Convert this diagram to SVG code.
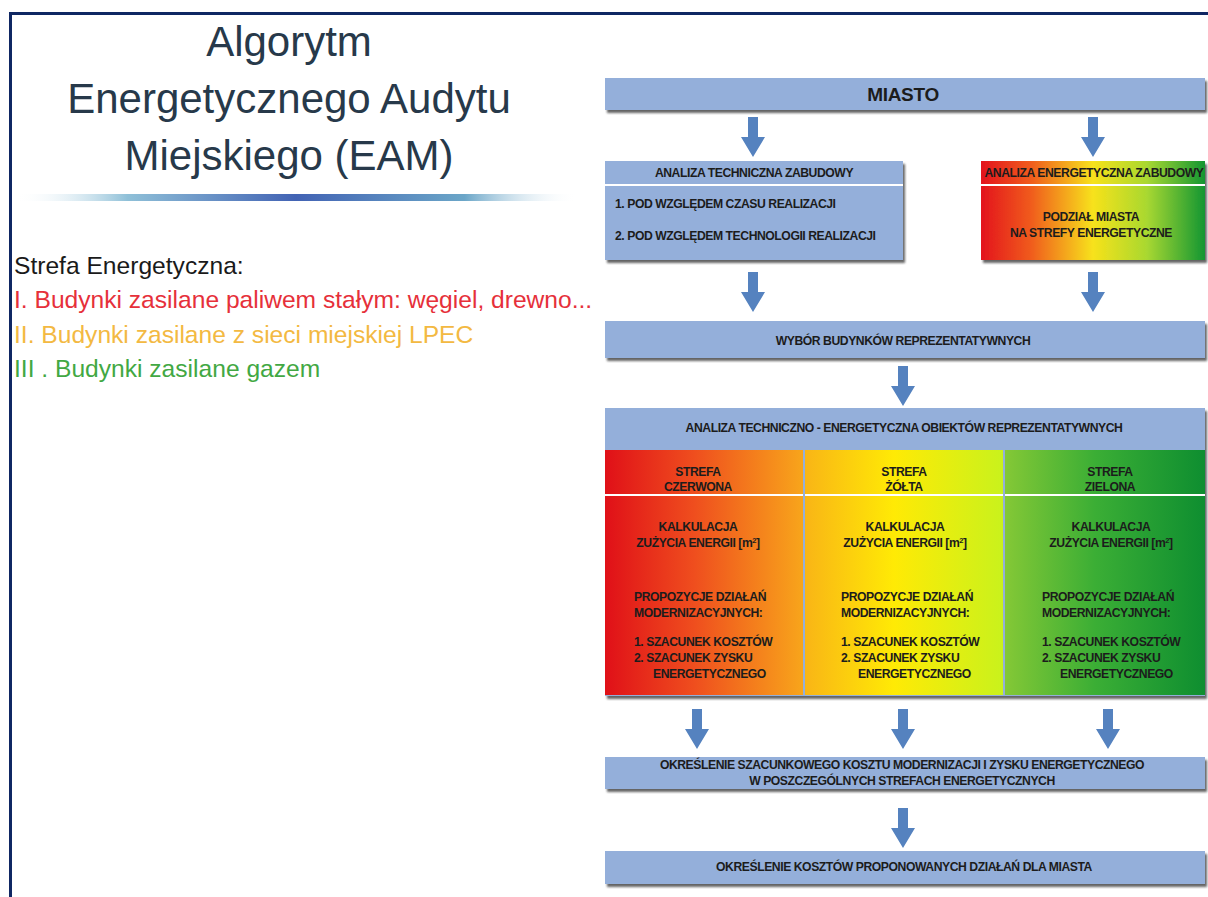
<svg xmlns="http://www.w3.org/2000/svg" xmlns:xlink="http://www.w3.org/1999/xlink" width="1208" height="897" viewBox="0 0 1208 897">
<defs>
<style>
.box{fill:#94AFDA;}
.t{font-family:"Liberation Sans",Arial,sans-serif;font-weight:bold;font-size:12.2px;letter-spacing:-0.45px;fill:#1c1c1c;text-anchor:middle;}
.tl{font-family:"Liberation Sans",Arial,sans-serif;font-weight:bold;font-size:12.2px;letter-spacing:-0.45px;fill:#1c1c1c;}
.title{font-family:"Liberation Sans",Arial,sans-serif;font-size:42px;fill:#27394A;text-anchor:middle;}
.side{font-family:"Liberation Sans",Arial,sans-serif;font-size:24.6px;}
.sep{stroke:#ffffff;stroke-width:2;}
.arrow{fill:#5582BF;}
</style>
<filter id="sh" x="-5%" y="-10%" width="112%" height="140%">
<feDropShadow dx="2" dy="3" stdDeviation="1.2" flood-color="#333333" flood-opacity="0.75"/>
</filter>
<linearGradient id="gRed" x1="0" y1="0" x2="1" y2="0">
<stop offset="0" stop-color="#E01018"/><stop offset="0.45" stop-color="#EF4E1E"/><stop offset="1" stop-color="#F8A51B"/>
</linearGradient>
<linearGradient id="gYel" x1="0" y1="0" x2="1" y2="0">
<stop offset="0" stop-color="#F9B516"/><stop offset="0.45" stop-color="#FFEA05"/><stop offset="1" stop-color="#C9F21C"/>
</linearGradient>
<linearGradient id="gGrn" x1="0" y1="0" x2="1" y2="0">
<stop offset="0" stop-color="#84C836"/><stop offset="0.45" stop-color="#3BAE35"/><stop offset="1" stop-color="#0E8E30"/>
</linearGradient>
<linearGradient id="gAll" x1="0" y1="0" x2="1" y2="0">
<stop offset="0" stop-color="#E3141B"/><stop offset="0.22" stop-color="#F05A1E"/><stop offset="0.5" stop-color="#F7E21A"/><stop offset="0.74" stop-color="#A9D830"/><stop offset="1" stop-color="#139631"/>
</linearGradient>
<linearGradient id="gLine" x1="0" y1="0" x2="1" y2="0">
<stop offset="0" stop-color="#ffffff" stop-opacity="0"/><stop offset="0.2" stop-color="#8FC0D8"/><stop offset="0.5" stop-color="#4263B4"/><stop offset="0.8" stop-color="#6BA6C8"/><stop offset="1" stop-color="#ffffff" stop-opacity="0"/>
</linearGradient>
<path id="arr" d="M-5,0 H5 V20 H12 L0,40 L-12,20 H-5 Z"/>
</defs>

<rect x="0" y="0" width="1208" height="897" fill="#ffffff"/>
<!-- frame -->
<rect x="9" y="12" width="3" height="885" fill="#0F2763"/>
<rect x="9" y="12" width="1199" height="3" fill="#0F2763"/>

<g id="title">
<text class="title" x="289" y="56">Algorytm</text>
<text class="title" x="289" y="113">Energetycznego Audytu</text>
<text class="title" x="289" y="170">Miejskiego (EAM)</text>
<rect x="15" y="194" width="562" height="7" fill="url(#gLine)"/>
</g>

<g id="legend">
<text class="side" x="14" y="274" fill="#1a1a1a">Strefa Energetyczna:</text>
<text class="side" x="14" y="308" fill="#E6303A">I. Budynki zasilane paliwem stałym: węgiel, drewno...</text>
<text class="side" x="14" y="343" fill="#F3B942">II. Budynki zasilane z sieci miejskiej LPEC</text>
<text class="side" x="14" y="377" fill="#42A843">III . Budynki zasilane gazem</text>
</g>

<g id="connectors">
<use href="#arr" class="arrow" transform="translate(753,117)"/>
<use href="#arr" class="arrow" transform="translate(1093,117)"/>
<use href="#arr" class="arrow" transform="translate(753,272)"/>
<use href="#arr" class="arrow" transform="translate(1093,272)"/>
<use href="#arr" class="arrow" transform="translate(903,366)"/>
<use href="#arr" class="arrow" transform="translate(697,709)"/>
<use href="#arr" class="arrow" transform="translate(903,709)"/>
<use href="#arr" class="arrow" transform="translate(1108,709)"/>
<use href="#arr" class="arrow" transform="translate(903,808)"/>
</g>

<g id="miasto">
<rect class="box" x="605" y="78" width="600" height="32" filter="url(#sh)"/>
<text class="t" x="903" y="101" style="font-size:19px;letter-spacing:-0.3px">MIASTO</text>
</g>

<g id="analiza-techniczna">
<rect class="box" x="605" y="161" width="298" height="99" filter="url(#sh)"/>
<line class="sep" x1="605" y1="185" x2="903" y2="185"/>
<text class="t" x="754" y="177">ANALIZA TECHNICZNA ZABUDOWY</text>
<text class="tl" x="615" y="208">1. POD WZGLĘDEM CZASU REALIZACJI</text>
<text class="tl" x="615" y="240">2. POD WZGLĘDEM TECHNOLOGII REALIZACJI</text>
</g>

<g id="analiza-energetyczna">
<rect x="981" y="161" width="224" height="99" fill="url(#gAll)" filter="url(#sh)"/>
<line class="sep" x1="981" y1="185" x2="1205" y2="185"/>
<text class="t" x="1094" y="177">ANALIZA ENERGETYCZNA ZABUDOWY</text>
<text class="t" x="1091" y="221">PODZIAŁ MIASTA</text>
<text class="t" x="1091" y="237">NA STREFY ENERGETYCZNE</text>
</g>

<g id="wybor">
<rect class="box" x="605" y="321" width="600" height="37" filter="url(#sh)"/>
<text class="t" x="903" y="345">WYBÓR BUDYNKÓW REPREZENTATYWNYCH</text>
</g>

<g id="analiza-obiektow">
<rect class="box" x="605" y="408" width="600" height="288" filter="url(#sh)"/>
<text class="t" x="904" y="432">ANALIZA TECHNICZNO - ENERGETYCZNA OBIEKTÓW REPREZENTATYWNYCH</text>
</g>

<g id="strefa-czerwona">
<rect x="605" y="450" width="198" height="245" fill="url(#gRed)"/>
<line class="sep" x1="605" y1="495" x2="803" y2="495"/>
<text class="t" x="698" y="476">STREFA</text>
<text class="t" x="698" y="491">CZERWONA</text>
<text class="t" x="698" y="531">KALKULACJA</text>
<text class="t" x="698" y="547">ZUŻYCIA ENERGII [m<tspan font-size="7.5" dy="-4">2</tspan><tspan dy="4">]</tspan></text>
<text class="tl" x="634" y="601">PROPOZYCJE DZIAŁAŃ</text>
<text class="tl" x="634" y="617">MODERNIZACYJNYCH:</text>
<text class="tl" x="634" y="646">1. SZACUNEK KOSZTÓW</text>
<text class="tl" x="634" y="662">2. SZACUNEK ZYSKU</text>
<text class="tl" x="653" y="678">ENERGETYCZNEGO</text>
</g>

<g id="strefa-zolta">
<rect x="805" y="450" width="198" height="245" fill="url(#gYel)"/>
<line class="sep" x1="805" y1="495" x2="1003" y2="495"/>
<text class="t" x="904" y="476">STREFA</text>
<text class="t" x="904" y="491">ŻÓŁTA</text>
<text class="t" x="905" y="531">KALKULACJA</text>
<text class="t" x="905" y="547">ZUŻYCIA ENERGII [m<tspan font-size="7.5" dy="-4">2</tspan><tspan dy="4">]</tspan></text>
<text class="tl" x="841" y="601">PROPOZYCJE DZIAŁAŃ</text>
<text class="tl" x="841" y="617">MODERNIZACYJNYCH:</text>
<text class="tl" x="841" y="646">1. SZACUNEK KOSZTÓW</text>
<text class="tl" x="841" y="662">2. SZACUNEK ZYSKU</text>
<text class="tl" x="858" y="678">ENERGETYCZNEGO</text>
</g>

<g id="strefa-zielona">
<rect x="1005" y="450" width="200" height="245" fill="url(#gGrn)"/>
<line class="sep" x1="1005" y1="495" x2="1205" y2="495"/>
<text class="t" x="1110" y="476">STREFA</text>
<text class="t" x="1110" y="491">ZIELONA</text>
<text class="t" x="1111" y="531">KALKULACJA</text>
<text class="t" x="1111" y="547">ZUŻYCIA ENERGII [m<tspan font-size="7.5" dy="-4">2</tspan><tspan dy="4">]</tspan></text>
<text class="tl" x="1042" y="601">PROPOZYCJE DZIAŁAŃ</text>
<text class="tl" x="1042" y="617">MODERNIZACYJNYCH:</text>
<text class="tl" x="1042" y="646">1. SZACUNEK KOSZTÓW</text>
<text class="tl" x="1042" y="662">2. SZACUNEK ZYSKU</text>
<text class="tl" x="1060" y="678">ENERGETYCZNEGO</text>
</g>

<g id="okreslenie-szacunkowego">
<rect class="box" x="605" y="757" width="600" height="32" filter="url(#sh)"/>
<text class="t" x="902" y="769">OKREŚLENIE SZACUNKOWEGO KOSZTU MODERNIZACJI I ZYSKU ENERGETYCZNEGO</text>
<text class="t" x="902" y="785">W POSZCZEGÓLNYCH STREFACH ENERGETYCZNYCH</text>
</g>

<g id="okreslenie-kosztow">
<rect class="box" x="605" y="851" width="600" height="33" filter="url(#sh)"/>
<text class="t" x="904" y="871">OKREŚLENIE KOSZTÓW PROPONOWANYCH DZIAŁAŃ DLA MIASTA</text>
</g>
</svg>
